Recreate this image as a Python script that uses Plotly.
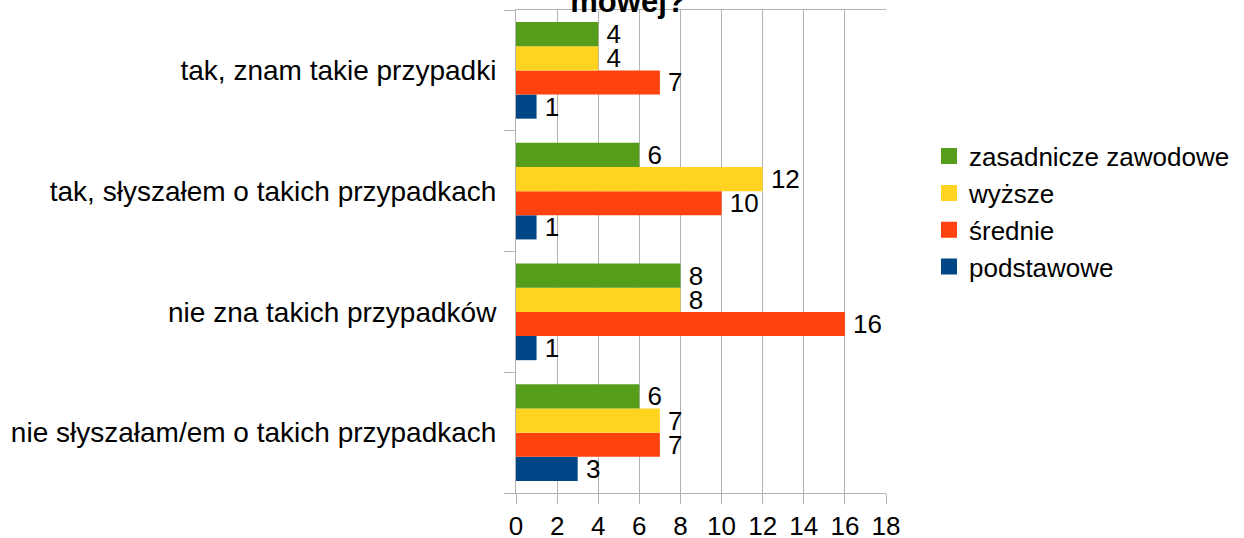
import plotly.graph_objects as go

categories = [
    "tak, znam takie przypadki",
    "tak, słyszałem o takich przypadkach",
    "nie zna takich przypadków",
    "nie słyszałam/em o takich przypadkach",
]

# series, bottom-up order inside each group
podstawowe = [1, 1, 1, 3]
srednie = [7, 10, 16, 7]
wyzsze = [4, 12, 8, 7]
zasadnicze = [4, 6, 8, 6]

series = [
    ("podstawowe", podstawowe, "#004586"),
    ("średnie", srednie, "#FF420E"),
    ("wyższe", wyzsze, "#FFD320"),
    ("zasadnicze zawodowe", zasadnicze, "#579D1C"),
]

FONT = "Liberation Sans, Arial, sans-serif"

fig = go.Figure()
for i, (name, vals, col) in enumerate(series):
    fig.add_trace(go.Bar(
        y=categories, x=vals, name=name, orientation="h",
        marker=dict(color=col, line=dict(width=0)),
        text=vals, textposition="outside", texttemplate="\u2009%{x}",
        textfont=dict(size=26, color="black", family=FONT),
        constraintext="none", cliponaxis=False, showlegend=False,
    ))
    # legend entry with a bigger square
    fig.add_trace(go.Scatter(
        x=[None], y=[None], mode="markers", name=name,
        legendrank=100 - i,
        marker=dict(symbol="square", size=16, color=col),
    ))

fig.update_layout(
    width=1244, height=538,
    margin=dict(l=516, r=358, t=10, b=45, autoexpand=False),
    paper_bgcolor="white", plot_bgcolor="white",
    barmode="group", bargap=0.2, bargroupgap=0,
    font=dict(family=FONT, size=26, color="black"),
    title=dict(text="<b>mowej?</b>", x=628 / 1244, xanchor="center",
               yref="container", y=1 - 12 / 538, yanchor="bottom",
               font=dict(size=31, family=FONT, color="black")),
    legend=dict(x=(929 - 516) / 370, xanchor="left", y=0.746, yanchor="top",
                traceorder="normal",
                font=dict(size=26, family=FONT), itemsizing="trace"),
)

fig.update_xaxes(
    range=[0, 18], dtick=2, tick0=0,
    showgrid=True, gridcolor="#b3b3b3", gridwidth=1,
    showline=True, linecolor="#b3b3b3", mirror=True,
    ticks="outside", ticklen=10, tickcolor="#b3b3b3",
    zeroline=False, tickfont=dict(size=26), automargin=False,
)
fig.update_yaxes(
    categoryorder="array", categoryarray=categories[::-1],
    showgrid=False, showline=True, linecolor="#b3b3b3",
    ticks="outside", ticklen=11, tickcolor="#b3b3b3", tickson="boundaries",
    ticklabelstandoff=13, tickfont=dict(size=28), automargin=False,
)

fig.write_html("out.html", config={"displayModeBar": False},
               post_script="document.body.style.margin='0';")
